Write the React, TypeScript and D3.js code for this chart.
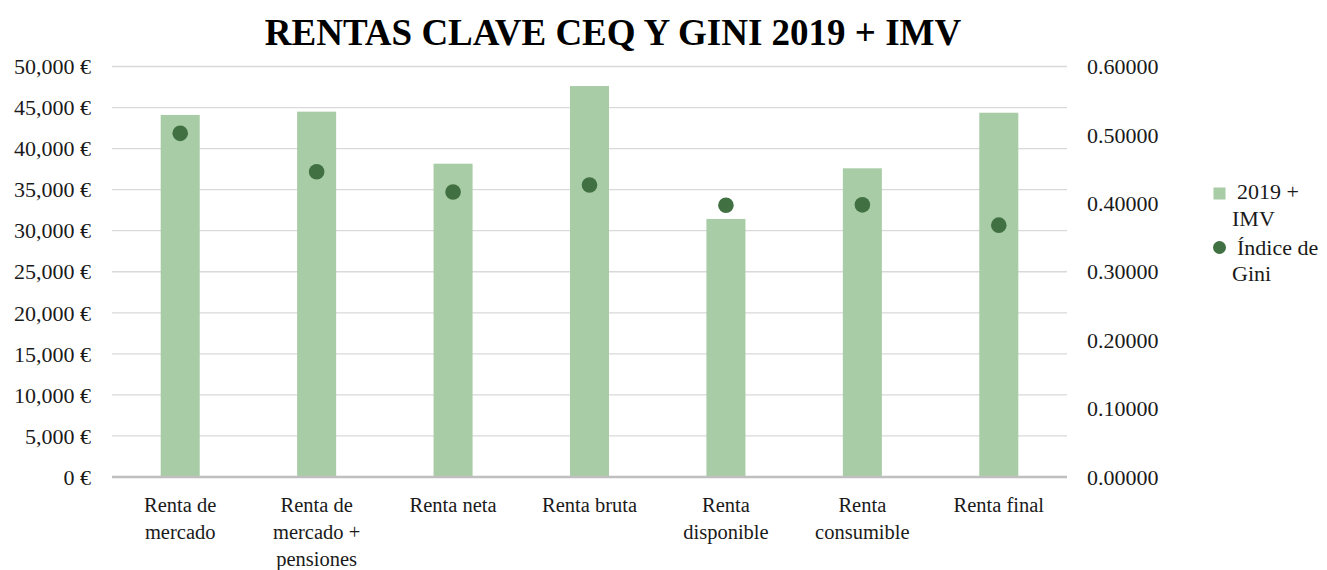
import React from "react";
import * as d3 from "d3";

const categories: string[][] = [
  ["Renta de", "mercado"],
  ["Renta de", "mercado +", "pensiones"],
  ["Renta neta"],
  ["Renta bruta"],
  ["Renta", "disponible"],
  ["Renta", "consumible"],
  ["Renta final"],
];
const rentaValues = [44100, 44500, 38160, 47620, 31430, 37600, 44370];
const giniValues = [0.5023, 0.4462, 0.4165, 0.4268, 0.3973, 0.3978, 0.3681];
const leftTicks = [0, 5000, 10000, 15000, 20000, 25000, 30000, 35000, 40000, 45000, 50000];
const rightTicks = [0, 0.1, 0.2, 0.3, 0.4, 0.5, 0.6];
const title = "RENTAS CLAVE CEQ Y GINI 2019 + IMV";
const barLegend = ["2019 +", "IMV"];
const dotLegend = ["Índice de", "Gini"];

const W = 1327;
const H = 570;
const plotLeft = 112;
const plotRight = 1067;
const plotTop = 66.5;
const plotBottom = 477;
const FONT = "'Liberation Serif', 'Times New Roman', serif";
const BAR = "#a8cca6";
const DOT = "#417143";

export default function App() {
  const x = d3
    .scaleBand<number>()
    .domain(categories.map((_, i) => i))
    .range([plotLeft, plotRight])
    .paddingInner(0.714)
    .paddingOuter(0.357);
  const xc = d3
    .scaleBand<number>()
    .domain(categories.map((_, i) => i))
    .range([plotLeft, plotRight]);
  const yL = d3.scaleLinear().domain([0, 50000]).range([plotBottom, plotTop]);
  const yR = d3.scaleLinear().domain([0, 0.6]).range([plotBottom, plotTop]);
  const fmtL = (v: number) => d3.format(",")(v) + " €";
  const fmtR = d3.format(".5f");

  return (
    <svg
      width={W}
      height={H}
      style={{ position: "absolute", left: 0, top: 0, background: "#fff" }}
      fontFamily={FONT}
    >
      <text x={613} y={45} textAnchor="middle" fontSize={37} fontWeight="bold" fill="#000">
        {title}
      </text>
      {leftTicks.map((t) =>
        t === 0 ? null : (
          <line key={"g" + t} x1={plotLeft} x2={plotRight} y1={yL(t)} y2={yL(t)} stroke="#d9d9d9" strokeWidth={1.3} />
        )
      )}
      {rentaValues.map((v, i) => (
        <rect key={"b" + i} x={x(i)!} y={yL(v)} width={x.bandwidth()} height={plotBottom - yL(v)} fill={BAR} />
      ))}
      <line x1={plotLeft} x2={plotRight} y1={plotBottom} y2={plotBottom} stroke="#bfbfbf" strokeWidth={2.5} />
      {giniValues.map((v, i) => (
        <circle key={"d" + i} cx={xc(i)! + xc.bandwidth() / 2} cy={yR(v)} r={7.8} fill={DOT} />
      ))}
      {leftTicks.map((t) => (
        <text key={"l" + t} x={91} y={yL(t)} dy="0.35em" textAnchor="end" fontSize={22} fill="#1a1a1a">
          {fmtL(t)}
        </text>
      ))}
      {rightTicks.map((t) => (
        <text key={"r" + t} x={1087} y={yR(t)} dy="0.35em" textAnchor="start" fontSize={22} fill="#1a1a1a">
          {fmtR(t)}
        </text>
      ))}
      {categories.map((lines, i) => (
        <text key={"c" + i} textAnchor="middle" fontSize={20.5} fill="#1a1a1a">
          {lines.map((ln, j) => (
            <tspan key={j} x={xc(i)! + xc.bandwidth() / 2} y={511.5 + j * 27}>
              {ln}
            </tspan>
          ))}
        </text>
      ))}
      <rect x={1213.5} y={187.5} width={12} height={12} fill={BAR} />
      <text fontSize={22} fill="#1a1a1a">
        <tspan x={1237} y={199}>{barLegend[0]}</tspan>
        <tspan x={1232} y={225.5}>{barLegend[1]}</tspan>
      </text>
      <circle cx={1219.5} cy={247.5} r={6.5} fill={DOT} />
      <text fontSize={22} fill="#1a1a1a">
        <tspan x={1237} y={255}>{dotLegend[0]}</tspan>
        <tspan x={1232} y={281}>{dotLegend[1]}</tspan>
      </text>
    </svg>
  );
}
